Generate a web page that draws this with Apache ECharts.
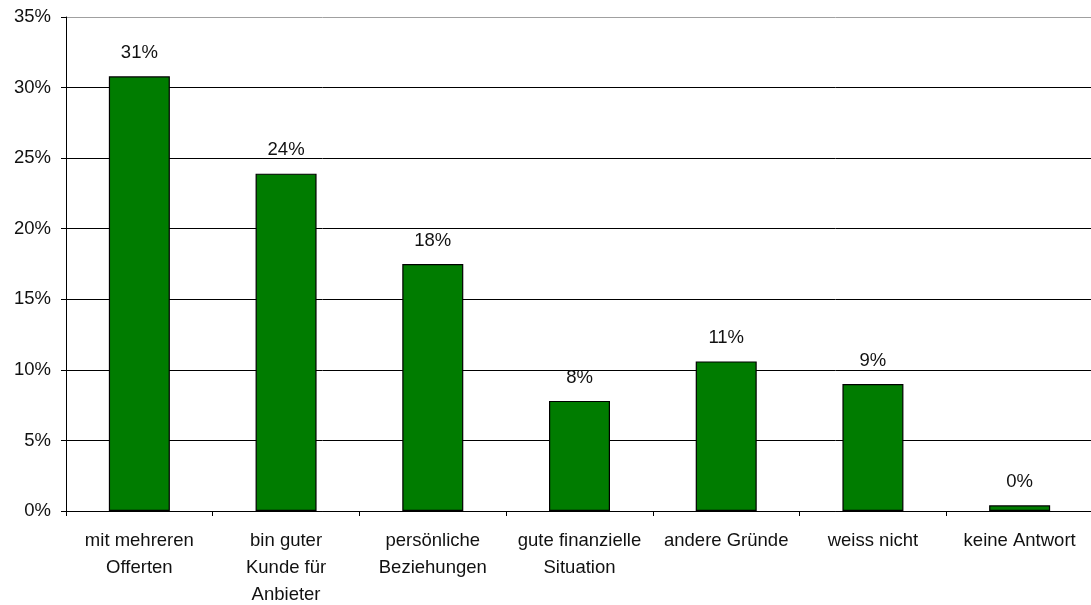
<!DOCTYPE html>
<html>
<head>
<meta charset="utf-8">
<script src="https://cdn.jsdelivr.net/npm/echarts@6/dist/echarts.min.js"></script>
<style>
  html, body { margin: 0; padding: 0; background: #fff; }
  #chart { width: 1091px; height: 605px; }
</style>
</head>
<body>
<div id="chart"></div>
<script>
// Reasons given (share of respondents, %)
const categories = [
  'mit mehreren\nOfferten',
  'bin guter\nKunde für\nAnbieter',
  'persönliche\nBeziehungen',
  'gute finanzielle\nSituation',
  'andere Gründe',
  'weiss nicht',
  'keine Antwort'
];
const shares = [30.8, 23.9, 17.5, 7.8, 10.6, 9.0, 0.4];
const yTicks = [0, 5, 10, 15, 20, 25, 30, 35];

const FONT = '"Liberation Sans", Arial, sans-serif';
const chart = echarts.init(document.getElementById('chart'));

chart.setOption({
  animation: false,
  backgroundColor: '#ffffff',
  grid: { left: 66, right: -2, top: 17, bottom: 94, outerBoundsMode: 'none', containLabel: false },
  xAxis: {
    type: 'category',
    data: categories,
    boundaryGap: true,
    axisLine: { show: true, lineStyle: { color: '#000', width: 1 } },
    axisTick: { show: true, length: 5, lineStyle: { color: '#000' } },
    axisLabel: {
      color: '#111', fontFamily: FONT, fontSize: 18.5, lineHeight: 27,
      margin: 16, interval: 0
    },
    splitLine: { show: false }
  },
  yAxis: {
    type: 'value',
    min: yTicks[0],
    max: yTicks[yTicks.length - 1],
    interval: 5,
    axisLine: { show: true, lineStyle: { color: '#000', width: 1 } },
    axisTick: { show: true, length: 5, lineStyle: { color: '#000' } },
    axisLabel: {
      color: '#111', fontFamily: FONT, fontSize: 18.5, margin: 15,
      formatter: v => v + '%'
    },
    splitLine: {
      show: true,
      lineStyle: {
        color: ['#000', '#000', '#000', '#000', '#000', '#000', '#000', '#a0a0a0'],
        width: 1
      }
    }
  },
  series: [{
    type: 'bar',
    data: shares,
    barWidth: 61,
    itemStyle: { color: '#007c00', borderColor: '#000', borderWidth: 1.2 },
    label: {
      show: true,
      position: 'top',
      distance: 14,
      color: '#111',
      fontFamily: FONT,
      fontSize: 18.5,
      formatter: p => Math.round(p.value) + '%'
    }
  }]
});
</script>
</body>
</html>
